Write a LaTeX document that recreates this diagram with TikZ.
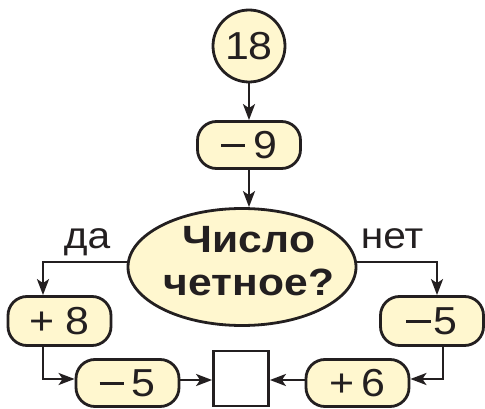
\documentclass[tikz,border=0pt]{standalone}
\usepackage{fontspec}
\setmainfont[FakeStretch=1.1]{Liberation Sans}
\newfontfamily\widebold[FakeStretch=1.12]{Liberation Sans Bold}
\newcommand\mn{\rule[0.3em]{0.62em}{0.075em}}
\usetikzlibrary{shapes.geometric,arrows.meta}
\definecolor{fillc}{HTML}{FFF7CF}
\definecolor{linec}{HTML}{231F20}
\begin{document}
\begin{tikzpicture}[x=1pt,y=-1pt,
  base/.style={draw=linec,fill=fillc,line width=2.8pt,inner sep=0pt,text=linec,font=\fontsize{39}{40}\selectfont},
  circ/.style={base,circle,minimum size=72pt},
  op/.style={base,rectangle,rounded corners=19pt,minimum width=103pt,minimum height=47pt},
  ell/.style={base,ellipse,minimum width=228pt,minimum height=117pt},
  sq/.style={draw=linec,fill=white,line width=2.8pt,minimum size=55pt,inner sep=0pt},
  lbl/.style={text=linec,font=\fontsize{37}{40}\selectfont,inner sep=0pt,anchor=base},
  arr/.style={draw=linec,line width=2.4pt,-{Stealth[length=16pt,width=12pt,inset=4pt]}}
]
\useasboundingbox (0,0) rectangle (485,409);
\node[circ] (a) at (249,46) {18};
\node[op] (b) at (249,145) {\mn\hspace{0.2em}9};
\node[ell] (c) at (242,267) {};
\node[text=linec,align=center,inner sep=0pt,font=\widebold\fontsize{38}{43}\selectfont] (ct) at (249,261) {Число\\четное?};
\node[op,minimum height=49pt] (d) at (59.5,321) {+\hspace{0.3em}8};
\node[op,minimum height=49pt] (e) at (432,321) {\mn\hspace{0.08em}5};
\node[op] (f) at (127.5,383) {\mn\hspace{0.2em}5};
\node[sq] (g) at (241,378.5) {};
\node[op] (h) at (357.5,383) {+\hspace{0.2em}6};
\node[lbl] (da) at (87,248) {да};
\node[lbl] (net) at (392,248) {нет};
\draw[arr] (a) -- (b);
\draw[arr] (b.south) -- (b.south |- c.north);
\draw[arr] ([yshift=5pt]c.west) -| ([xshift=-16.5pt]d.north);
\draw[arr] ([yshift=5pt]c.east) -| ([xshift=5pt]e.north);
\draw[arr] ([xshift=-16.5pt]d.south) |- ([yshift=4pt]f.west);
\draw[arr] ([yshift=3pt]f.east) -- ([yshift=3pt]f.east -| g.west);
\draw[arr] ([xshift=11pt]e.south) |- ([yshift=4pt]h.east);
\draw[arr] ([yshift=3pt]h.west) -- ([yshift=3pt]h.west -| g.east);
\end{tikzpicture}
\end{document}
